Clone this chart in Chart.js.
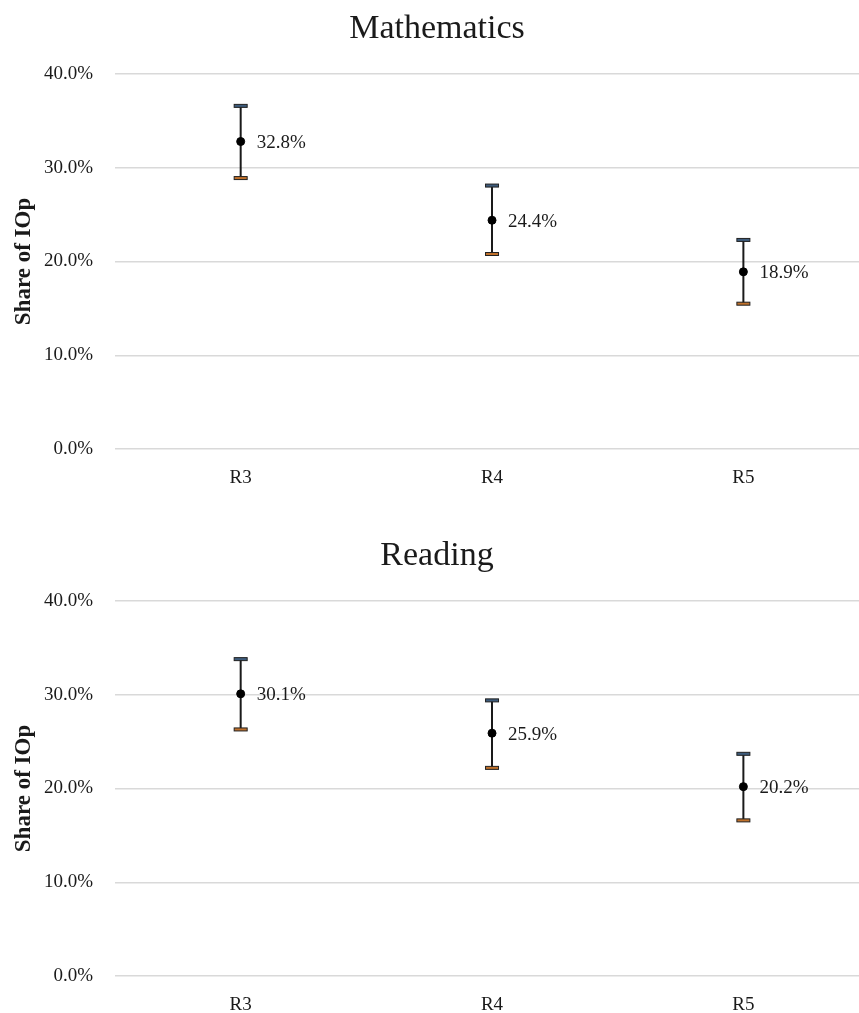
<!DOCTYPE html>
<html>
<head>
<meta charset="utf-8">
<script src="https://cdn.jsdelivr.net/npm/chart.js@4.4.0/dist/chart.umd.min.js"></script>
<style>
  html, body { margin: 0; padding: 0; background: #fff; overflow: hidden; }
  .panel { position: absolute; left: 0; width: 859px; height: 486px; }
</style>
</head>
<body>
<div class="panel" style="top: 0px;"><canvas id="mathChart" width="859" height="486"></canvas></div>
<div class="panel" style="top: 527px;"><canvas id="readChart" width="859" height="486"></canvas></div>
<script>
const rounds = ['R3', 'R4', 'R5'];
const yTicks = [0, 10, 20, 30, 40];

// Mathematics: point estimate with upper / lower bound (percent)
const mathShare = [32.8, 24.4, 18.9];
const mathHigh = [36.6, 28.1, 22.3];
const mathLow = [28.9, 20.8, 15.5];

// Reading
const readShare = [30.1, 25.9, 20.2];
const readHigh = [33.8, 29.4, 23.7];
const readLow = [26.3, 22.2, 16.6];

const FONT = "'Liberation Serif', 'Times New Roman', serif";
const INK = '#1a1a1a';

// panel title, whiskers + caps under the points, value labels on top
const errorBars = {
  id: 'errorBars',
  beforeDatasetsDraw(chart, args, opts) {
    const { ctx } = chart;
    const xs = chart.scales.x, ys = chart.scales.y;
    ctx.save();
    ctx.font = '34px ' + FONT;
    ctx.fillStyle = INK;
    ctx.textAlign = 'center';
    ctx.textBaseline = 'alphabetic';
    ctx.fillText(opts.title, 437, 37.5);

    opts.high.forEach((hi, i) => {
      const x = xs.getPixelForValue(i + 1);
      const yHi = ys.getPixelForValue(hi);
      const yLo = ys.getPixelForValue(opts.low[i]);
      ctx.strokeStyle = INK;
      ctx.lineWidth = 2;
      ctx.beginPath();
      ctx.moveTo(x, yHi);
      ctx.lineTo(x, yLo);
      ctx.stroke();
      // caps
      [[yHi, '#3e5c7c'], [yLo, '#c0712b']].forEach(([y, fill]) => {
        ctx.fillStyle = fill;
        ctx.fillRect(x - 6.5, y - 1.5, 13, 3);
        ctx.lineWidth = 1;
        ctx.strokeStyle = '#222';
        ctx.strokeRect(x - 6.5, y - 1.5, 13, 3);
      });
    });
    ctx.restore();
  },
  afterDatasetsDraw(chart) {
    const { ctx } = chart;
    const meta = chart.getDatasetMeta(0);
    const data = chart.data.datasets[0].data;
    ctx.save();
    ctx.font = '19px ' + FONT;
    ctx.fillStyle = INK;
    ctx.textAlign = 'left';
    ctx.textBaseline = 'middle';
    meta.data.forEach((pt, i) => {
      ctx.fillText(data[i].y.toFixed(1) + '%', pt.x + 16, pt.y + 1.5);
    });
    ctx.restore();
  }
};

function makeChart(id, title, share, high, low) {
  return new Chart(document.getElementById(id), {
    type: 'scatter',
    data: {
      datasets: [{
        data: share.map((v, i) => ({ x: i + 1, y: v })),
        pointRadius: 4,
        pointBackgroundColor: '#000',
        pointBorderColor: '#000',
        showLine: false
      }]
    },
    options: {
      responsive: false,
      animation: false,
      layout: { autoPadding: false, padding: { left: 0, right: 0, top: 74, bottom: 0 } },
      plugins: {
        legend: { display: false },
        tooltip: { enabled: false },
        title: { display: false },
        errorBars: { title: title, high: high, low: low }
      },
      scales: {
        x: {
          type: 'linear',
          min: 0.5,
          max: 3.46,
          afterBuildTicks: (scale) => { scale.ticks = rounds.map((r, i) => ({ value: i + 1 })); },
          afterFit: (scale) => {
            scale.height = 37;
            scale.paddingLeft = 0;
            scale.paddingRight = 0;
          },
          grid: { display: false, drawTicks: false },
          border: { display: false },
          ticks: {
            padding: 18,
            color: INK,
            font: { family: FONT, size: 19 },
            callback: (v) => rounds[v - 1]
          }
        },
        y: {
          min: 0,
          max: 40,
          afterBuildTicks: (scale) => { scale.ticks = yTicks.map(v => ({ value: v })); },
          afterFit: (scale) => {
            scale.width = 115;
            scale.paddingTop = 0;
            scale.paddingBottom = 0;
          },
          grid: { color: '#d9d9d9', lineWidth: 1.5, drawTicks: false },
          border: { display: false },
          title: {
            display: true,
            text: 'Share of IOp',
            color: INK,
            font: { family: FONT, size: 23, weight: 'bold' },
            padding: { top: 10, bottom: 0 }
          },
          ticks: {
            padding: 22,
            color: INK,
            font: { family: FONT, size: 19 },
            callback: (v) => v.toFixed(1) + '%'
          }
        }
      }
    },
    plugins: [errorBars]
  });
}

makeChart('mathChart', 'Mathematics', mathShare, mathHigh, mathLow);
makeChart('readChart', 'Reading', readShare, readHigh, readLow);
</script>
</body>
</html>
